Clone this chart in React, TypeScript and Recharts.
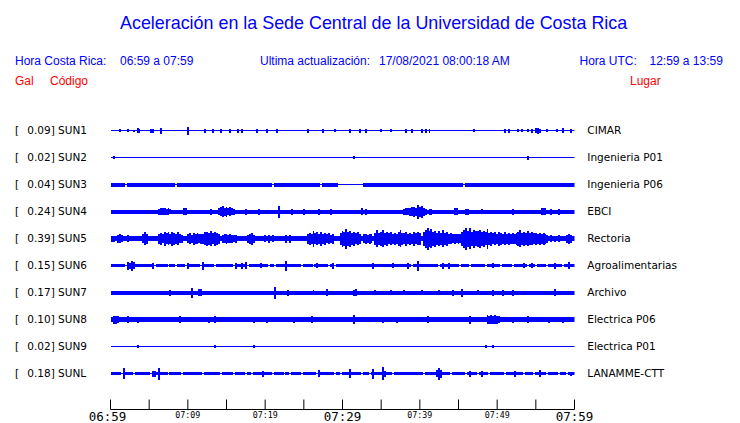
import React from "react";
import { ComposedChart, Area, XAxis, YAxis } from "recharts";

// ---- Station metadata ----
const CODES = ["SUN1", "SUN2", "SUN3", "SUN4", "SUN5", "SUN6", "SUN7", "SUN8", "SUN9", "SUNL"];
const GALS = ["0.09", "0.02", "0.04", "0.24", "0.39", "0.15", "0.17", "0.10", "0.02", "0.18"];
const PLACES = ["CIMAR", "Ingenieria P01", "Ingenieria P06", "EBCI", "Rectoria", "Agroalimentarias", "Archivo", "Electrica P06", "Electrica P01", "LANAMME-CTT"];

// ---- Time axis (minutes after 06:59) ----
const TICK_MINUTES = [0, 5, 10, 15, 20, 25, 30, 35, 40, 45, 50, 55, 60];
const TICK_LABELS = ["06:59", "", "07:09", "", "07:19", "", "07:29", "", "07:39", "", "07:49", "", "07:59"];

// ---- Envelope data: band segments [start, end, half-amplitude], peaks [minute, half-amplitude], dips [minute] ----
const SUN1_BAND = [[0, 60, 0.5]];
const SUN1_PEAKS = [[1.3, 1.5], [2.3, 1.5], [3.0, 1], [3.5, 2.5], [3.75, 2], [5.25, 2], [5.5, 2], [6.6, 3], [10.0, 2.5], [10.1, 4], [12.3, 2], [13.3, 2], [14.2, 2], [15.5, 2], [16.4, 2], [17.1, 2], [18.9, 2], [20.3, 2], [21.4, 2], [25.6, 2], [27.6, 2], [29.1, 1.5], [31.0, 2], [32.2, 2], [33.1, 2], [35.1, 1.5], [36.2, 1.5], [38.2, 2], [38.9, 2], [40.3, 2], [40.8, 2], [41.3, 2], [47.0, 1.5], [51.0, 2], [51.4, 2], [52.8, 1.5], [53.2, 1.5], [53.9, 1.5], [54.4, 2], [55.0, 2.5], [55.2, 3], [55.5, 2], [56.6, 1.5], [57.8, 1.5], [58.5, 2.5], [59.4, 2]];
const SUN1_DIPS: number[] = [];

const SUN2_BAND = [[0, 60, 0.5]];
const SUN2_PEAKS = [[0.4, 1.2], [31.4, 1.2], [54.1, 2]];
const SUN2_DIPS: number[] = [];

const SUN3_BAND = [[0, 29.3, 2], [29.3, 32.6, 0.5], [32.6, 60, 2]];
const SUN3_PEAKS: number[][] = [];
const SUN3_DIPS = [2.0, 8.6, 20.9, 27.2, 45.8];

const SUN4_BAND = [[0, 60, 2]];
const SUN4_PEAKS = [[6.25, 3], [6.5, 3.7], [6.75, 3.2], [7.0, 3.7], [7.25, 3], [7.5, 3.3], [7.75, 2.8], [9.5, 3.2], [9.75, 3.5], [12.9, 3], [14.0, 3.5], [14.25, 4.5], [14.5, 5.5], [14.75, 4], [15.0, 5], [15.25, 3.5], [15.5, 4.5], [15.75, 3.5], [16.0, 3], [17.5, 3], [19.25, 3], [21.75, 6], [23.5, 3], [25.0, 3], [27.0, 3], [28.5, 3], [32.5, 3.2], [33.0, 3], [38.0, 3], [38.25, 3.5], [38.5, 3.2], [38.75, 4], [39.0, 4.5], [39.25, 5], [39.5, 4], [39.75, 7], [40.0, 5], [40.25, 6], [40.5, 4], [40.75, 3], [41.25, 3], [41.5, 3], [44.5, 3.5], [44.75, 3.5], [46.0, 3], [46.25, 3], [48.0, 2.5], [52.0, 3], [55.75, 3.5], [56.0, 3.5], [56.25, 3.5], [57.0, 3], [58.0, 3]];
const SUN4_DIPS: number[] = [];

const SUN5_BAND = [[0, 60, 2.5]];
const SUN5_PEAKS = [[0.25, 3], [0.5, 3], [1.0, 4], [1.25, 4.5], [1.5, 3.5], [2.25, 3.5], [4.25, 4.5], [4.5, 6.3], [4.75, 5], [6.25, 5], [6.5, 6], [6.75, 4.5], [7.0, 7], [7.25, 5.5], [7.5, 6.5], [7.75, 5], [8.0, 7], [8.25, 6], [8.5, 5], [8.75, 6.5], [9.0, 4.5], [9.25, 4], [10.0, 4.5], [10.25, 5.5], [10.5, 4], [10.75, 6], [11.0, 5], [11.25, 5.5], [11.5, 4.5], [11.75, 5], [12.0, 5], [12.25, 6.5], [12.5, 7], [12.75, 6], [13.0, 7.5], [13.25, 5.5], [13.5, 7], [13.75, 6], [14.0, 5], [14.5, 4], [14.75, 4.5], [15.0, 5], [15.25, 4], [15.5, 4.5], [15.75, 4], [16.0, 3.5], [16.25, 4], [17.75, 4], [18.0, 5], [18.25, 6], [18.5, 4], [20.0, 3.5], [20.5, 4], [21.0, 3.5], [22.75, 4], [23.25, 4], [25.5, 5], [25.75, 6], [26.0, 5], [26.25, 8], [26.5, 5.5], [26.75, 6.5], [27.0, 5], [27.25, 7], [27.5, 5], [27.75, 6], [28.0, 4.5], [28.25, 5.5], [28.5, 4], [28.75, 5], [29.75, 6], [30.0, 8], [30.25, 7], [30.5, 10], [30.75, 7], [31.0, 8], [31.25, 6], [31.5, 7], [31.75, 5.5], [32.0, 6.5], [32.25, 5], [32.75, 4.5], [33.0, 5], [33.25, 4], [33.5, 5], [33.75, 4.5], [34.25, 6], [34.5, 8.7], [34.75, 6], [35.0, 7], [35.25, 8.5], [35.5, 6], [35.75, 7], [36.0, 5.5], [36.25, 6.5], [36.5, 5], [36.75, 6], [37.0, 5], [37.25, 7], [37.5, 8.7], [37.75, 6], [38.0, 5.5], [38.25, 7], [38.5, 5], [38.75, 6], [39.0, 5], [39.25, 7], [39.5, 5.5], [39.75, 6.5], [40.0, 6], [40.5, 7], [40.75, 9], [41.0, 11], [41.25, 8], [41.5, 9.5], [41.75, 7], [42.0, 8], [42.25, 6], [42.5, 7.5], [42.75, 6], [43.0, 8.7], [43.25, 6], [43.5, 7], [43.75, 5], [44.0, 5.5], [44.25, 4.5], [44.5, 5], [44.75, 4.5], [45.0, 5], [45.25, 4.5], [45.5, 7], [45.75, 9], [46.0, 11], [46.25, 8], [46.5, 10.5], [46.75, 7], [47.0, 9], [47.25, 7.5], [47.5, 8], [47.75, 9], [48.0, 7], [48.25, 8], [48.5, 6.5], [48.75, 10], [49.0, 6], [49.25, 7], [49.5, 5.5], [49.75, 6.5], [50.0, 5], [50.25, 7], [50.5, 6], [50.75, 5], [51.0, 6.5], [51.25, 5], [51.5, 6], [51.75, 5], [52.0, 5.5], [52.25, 5], [52.5, 6], [52.75, 7], [53.0, 8.7], [53.25, 6], [53.5, 7], [53.75, 6], [54.0, 7.5], [54.25, 6], [54.5, 6.5], [54.75, 5.5], [55.0, 6], [55.25, 5], [55.5, 6], [55.75, 5], [56.0, 6], [56.25, 5], [56.5, 4], [57.0, 3.5], [57.5, 3], [58.0, 3.5], [59.0, 4], [59.25, 5], [59.5, 4]];
const SUN5_DIPS: number[] = [];

const SUN6_BAND = [[0, 60, 1.5]];
const SUN6_PEAKS = [[2.25, 4], [2.5, 3], [2.75, 5], [3.0, 3.5], [5.5, 3], [10.0, 3], [12.0, 4], [16.25, 3], [17.0, 3], [17.5, 3.5], [19.5, 2.5], [22.75, 5], [26.75, 2.5], [28.75, 3], [34.0, 3], [36.5, 2.5], [38.5, 3], [39.75, 5], [43.0, 3], [43.75, 3], [49.5, 2.5], [53.5, 2.5], [54.5, 2.5], [57.5, 3], [59.25, 3.5]];
const SUN6_DIPS = [2.1, 5.7, 7.5, 8.4, 9.8, 11.8, 13.6, 16.0, 17.8, 20.5, 21.3, 24.7, 26.2, 28.2, 29.1, 38.9, 42.4, 45.2, 46.6, 48.4, 50.6, 52.1, 54.0, 55.1, 56.6, 58.5];

const SUN7_BAND = [[0, 60, 2]];
const SUN7_PEAKS = [[7.75, 3], [10.5, 5], [11.5, 3.5], [11.75, 3.5], [21.25, 6], [23.0, 3], [26.25, 2.8], [28.0, 3.5], [31.5, 3], [31.75, 3.5], [34.25, 2.8], [36.25, 2.8], [38.0, 2.8], [40.25, 2.8], [42.5, 2.8], [44.25, 3], [45.5, 4], [47.5, 2.8], [49.5, 3], [50.75, 3], [52.0, 3], [57.5, 3.5]];
const SUN7_DIPS: number[] = [];

const SUN8_BAND = [[0, 60, 2.5]];
const SUN8_PEAKS = [[0.5, 4], [0.75, 4], [1.0, 3.5], [2.25, 3.5], [3.5, 3], [9.0, 3.5], [12.75, 3], [13.5, 3.5], [18.5, 3], [20.25, 3], [23.75, 3], [26.0, 3.5], [31.5, 4.5], [35.25, 3], [37.0, 3], [41.0, 3.5], [46.5, 4], [48.75, 4.5], [49.0, 4], [49.25, 4.5], [49.5, 4], [49.75, 4.5], [50.0, 4], [50.25, 3.5], [52.0, 3], [54.0, 3.5], [56.75, 3], [58.5, 3]];
const SUN8_DIPS: number[] = [];

const SUN9_BAND = [[0, 60, 0.5]];
const SUN9_PEAKS = [[3.5, 1.5], [13.5, 1.5], [18.5, 1.5], [48.5, 1.5], [49.5, 1.5]];
const SUN9_DIPS: number[] = [];

const SUNL_BAND = [[0, 60, 1.5]];
const SUNL_PEAKS = [[1.75, 5.5], [5.5, 3], [5.75, 3], [6.25, 6], [19.75, 3], [27.0, 3.5], [31.0, 4.5], [34.0, 5], [35.25, 6.5], [35.5, 3], [42.25, 3.5], [42.5, 6], [42.75, 4], [46.5, 3], [48.0, 3], [52.25, 3], [55.5, 3.5], [59.5, 2]];
const SUNL_DIPS = [1.5, 3.0, 5.2, 7.4, 9.3, 11.9, 14.2, 15.9, 17.4, 18.3, 20.9, 22.4, 23.3, 24.8, 26.7, 29.1, 29.7, 32.6, 33.6, 36.6, 40.6, 43.9, 45.9, 47.4, 49.1, 51.0, 53.4, 54.7, 56.6, 57.9, 59.0];

const STATIONS = [
  { band: SUN1_BAND, peaks: SUN1_PEAKS, dips: SUN1_DIPS },
  { band: SUN2_BAND, peaks: SUN2_PEAKS, dips: SUN2_DIPS },
  { band: SUN3_BAND, peaks: SUN3_PEAKS, dips: SUN3_DIPS },
  { band: SUN4_BAND, peaks: SUN4_PEAKS, dips: SUN4_DIPS },
  { band: SUN5_BAND, peaks: SUN5_PEAKS, dips: SUN5_DIPS },
  { band: SUN6_BAND, peaks: SUN6_PEAKS, dips: SUN6_DIPS },
  { band: SUN7_BAND, peaks: SUN7_PEAKS, dips: SUN7_DIPS },
  { band: SUN8_BAND, peaks: SUN8_PEAKS, dips: SUN8_DIPS },
  { band: SUN9_BAND, peaks: SUN9_PEAKS, dips: SUN9_DIPS },
  { band: SUNL_BAND, peaks: SUNL_PEAKS, dips: SUNL_DIPS },
];

// ---- Build the table sampled every 15 s ----
const STEP = 0.25;
const N = 240;
const table: any[] = [];
for (let i = 0; i <= N; i++) {
  const t = i * STEP;
  const row: any = { t };
  STATIONS.forEach((s, k) => {
    let h = 0.5;
    for (const [a, b, v] of s.band) if (t >= a && t <= b) h = v;
    if (s.dips.some((d) => Math.round(d / STEP) === i)) h = 0.5;
    for (const [pt, pv] of s.peaks) if (Math.round(pt / STEP) === i) h = Math.max(h, pv);
    row[CODES[k]] = h;
  });
  table.push(row);
}

// layout
const W = 740;
const H = 423;
const PLOT_TOP = 103;
const AXIS_Y = 409.5;
const Y_MAX = AXIS_Y - PLOT_TOP;
const ROW0 = 130.5;
const ROW_GAP = 27;
const BLUE = "#0000ff";
const centerValue = (k: number) => AXIS_Y - (ROW0 + k * ROW_GAP);

const TimeTick = (props: any) => {
  const { x, y, payload } = props;
  const idx = TICK_MINUTES.indexOf(payload.value);
  const label = idx >= 0 ? TICK_LABELS[idx] : "";
  const major = payload.value % 30 === 0;
  return (
    <g>
      <line x1={x} x2={x} y1={y - 10} y2={y} stroke="#000" strokeWidth={1} />
      {label ? (
        <text
          x={x + (payload.value === 0 ? -3 : 0)}
          y={y + (major ? 11 : 8.5)}
          textAnchor="middle"
          fontFamily="DejaVu Sans Mono"
          fontSize={major ? 12.5 : 8.3}
          fill="#000"
        >
          {label}
        </text>
      ) : null}
    </g>
  );
};

export default function App() {
  return (
    <div style={{ position: "absolute", left: 0, top: 0, width: W, height: H, background: "#fff" }}>
      <ComposedChart
        width={W}
        height={H}
        data={table}
        margin={{ top: PLOT_TOP, right: 165.5, bottom: 0, left: 110.5 }}
      >
        <XAxis
          type="number"
          dataKey="t"
          domain={[0, 60]}
          ticks={TICK_MINUTES}
          interval={0}
          height={H - AXIS_Y}
          tickSize={0}
          tickMargin={0}
          tickLine={false}
          axisLine={{ stroke: "#000", strokeWidth: 1 }}
          tick={<TimeTick />}
          allowDataOverflow
        />
        <YAxis type="number" hide domain={[0, Y_MAX]} allowDataOverflow />
        {CODES.map((code, k) => (
          <Area
            key={code}
            dataKey={(d: any) => [centerValue(k) - d[code], centerValue(k) + d[code]]}
            type="step"
            fill={BLUE}
            fillOpacity={1}
            stroke="none"
            dot={false}
            activeDot={false}
            isAnimationActive={false}
            shapeRendering="crispEdges"
          />
        ))}
      </ComposedChart>
      <svg
        width={W}
        height={H}
        style={{ position: "absolute", left: 0, top: 0, pointerEvents: "none" }}
      >
        <text x={120} y={29} fontFamily="Liberation Sans" fontSize={17.9} fill={BLUE}>
          Aceleración en la Sede Central de la Universidad de Costa Rica
        </text>
        <g fontFamily="Liberation Sans" fontSize={12} fill={BLUE}>
          <text x={15} y={65}>Hora Costa Rica:</text>
          <text x={120} y={65}>06:59 a 07:59</text>
          <text x={260} y={65}>Ultima actualización:</text>
          <text x={379} y={65}>17/08/2021 08:00:18 AM</text>
          <text x={579.5} y={65}>Hora UTC:</text>
          <text x={649.5} y={65}>12:59 a 13:59</text>
        </g>
        <g fontFamily="Liberation Sans" fontSize={12} fill="#ff0000">
          <text x={15} y={84.5}>Gal</text>
          <text x={50} y={84.5}>Código</text>
          <text x={630} y={84.5}>Lugar</text>
        </g>
        <g fontFamily="DejaVu Sans" fontSize={10.5} fill="#000">
          {CODES.map((code, k) => (
            <g key={code}>
              <text x={15} y={134 + k * ROW_GAP}>[</text>
              <text x={27.3} y={134 + k * ROW_GAP}>{`${GALS[k]}] ${code}`}</text>
              <text x={587.3} y={134 + k * ROW_GAP}>{PLACES[k]}</text>
            </g>
          ))}
        </g>
      </svg>
    </div>
  );
}
